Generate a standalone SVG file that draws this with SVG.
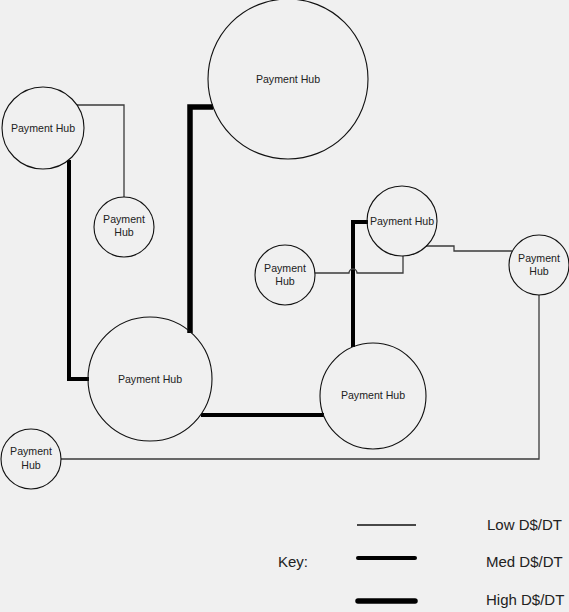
<svg xmlns="http://www.w3.org/2000/svg" width="569" height="612" viewBox="0 0 569 612">
<style>
.bg{fill:#f0f0f0}
.hub{fill:none;stroke:#111;stroke-width:1.1}
.t{font-family:"Liberation Sans",Arial,sans-serif;font-size:10.6px;fill:#222;text-anchor:middle}
.low{fill:none;stroke:#3a3a3a;stroke-width:1.3}
.med{fill:none;stroke:#000;stroke-width:4}
.high{fill:none;stroke:#000;stroke-width:5.5}
.k{font-family:"Liberation Sans",Arial,sans-serif;font-size:15px;fill:#222}
</style>
<rect class="bg" x="0" y="0" width="569" height="612"/>
<g id="connectors">
<path class="low" d="M77,105 H124 V197"/>
<path class="med" d="M69,160 V379 H89"/>
<path class="high" d="M213,107 H190 V333"/>
<path class="med" d="M201,415 H324"/>
<path class="med" d="M353,347 V222 H368"/>
<path class="low" d="M315,273 H349 a4,4 0 0 1 8,0 H403 V256"/>
<path class="low" d="M426,246 H454 V251 H512"/>
<path class="low" d="M539,295 V459 H61"/>
</g>
<g id="hub-top">
<circle class="hub" cx="288" cy="79" r="80"/>
<text class="t" x="288" y="83">Payment Hub</text>
</g>
<g id="hub-topleft">
<circle class="hub" cx="43" cy="128" r="41"/>
<text class="t" x="43" y="132">Payment Hub</text>
</g>
<g id="hub-small-left">
<circle class="hub" cx="124" cy="227" r="30"/>
<text class="t" x="124" y="223">Payment</text>
<text class="t" x="124" y="236">Hub</text>
</g>
<g id="hub-middle">
<circle class="hub" cx="150" cy="379" r="62"/>
<text class="t" x="150" y="383">Payment Hub</text>
</g>
<g id="hub-rightmid">
<circle class="hub" cx="373" cy="396" r="53"/>
<text class="t" x="373" y="399">Payment Hub</text>
</g>
<g id="hub-topright">
<circle class="hub" cx="402" cy="221" r="35"/>
<text class="t" x="402" y="225">Payment Hub</text>
</g>
<g id="hub-center-small">
<circle class="hub" cx="285" cy="275" r="30"/>
<text class="t" x="285" y="272">Payment</text>
<text class="t" x="285" y="285">Hub</text>
</g>
<g id="hub-right">
<circle class="hub" cx="539" cy="265" r="30"/>
<text class="t" x="539" y="262">Payment</text>
<text class="t" x="539" y="275">Hub</text>
</g>
<g id="hub-bottomleft">
<circle class="hub" cx="31" cy="459" r="30"/>
<text class="t" x="31" y="455">Payment</text>
<text class="t" x="31" y="469">Hub</text>
</g>
<g id="key">
<text class="k" x="278" y="567">Key:</text>
<line x1="357" y1="525" x2="416" y2="525" stroke="#111" stroke-width="1.5"/>
<line x1="358" y1="558" x2="415" y2="558" stroke="#000" stroke-width="4" stroke-linecap="round"/>
<line x1="358" y1="601" x2="415" y2="601" stroke="#000" stroke-width="5.5" stroke-linecap="round"/>
<text class="k" x="487" y="530">Low D$/DT</text>
<text class="k" x="486" y="567">Med D$/DT</text>
<text class="k" x="486" y="605">High D$/DT</text>
</g>
</svg>
